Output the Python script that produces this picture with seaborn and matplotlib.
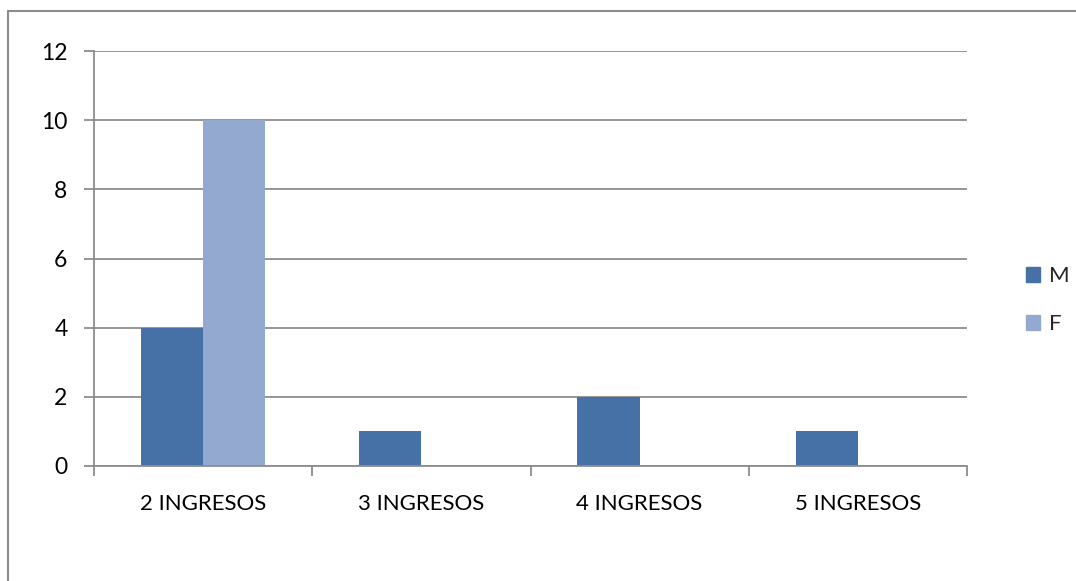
import pandas as pd
import numpy as np
import matplotlib.pyplot as plt
import seaborn as sns
from matplotlib.lines import Line2D

# datos
categorias = ['2 INGRESOS', '3 INGRESOS', '4 INGRESOS', '5 INGRESOS']
valores_m = [4, 1, 2, 1]
valores_f = [10, 0, 0, 0]
series = ['M', 'F']

df = pd.DataFrame({
    'categoria': categorias * 2,
    'serie': ['M'] * len(categorias) + ['F'] * len(categorias),
    'valor': valores_m + valores_f,
})

sns.set_style('white')
plt.rcParams['font.family'] = ['Lato', 'DejaVu Sans']

W, H = 1076, 581
fig = plt.figure(figsize=(W / 100, H / 100), dpi=100)
ax = fig.add_axes([94 / W, 1 - 466 / H, (967 - 94) / W, (466 - 51) / H])

colores = {'M': '#4571A6', 'F': '#94A9D0'}
sns.barplot(data=df, x='categoria', y='valor', hue='serie', hue_order=series,
            palette=colores, width=0.57, gap=0, saturation=1, ax=ax,
            legend=False, edgecolor='none')

ax.set_ylim(0, 12)
ax.set_yticks(range(0, 13, 2))
ax.set_xlim(-0.5, 3.5)
ax.grid(axis='y', color='#8c8c8c', linewidth=1.3)
ax.set_axisbelow(True)
ax.set_xlabel('')
ax.set_ylabel('')

for s in ['top', 'right']:
    ax.spines[s].set_visible(False)
for s in ['left', 'bottom']:
    ax.spines[s].set_color('#8c8c8c')
    ax.spines[s].set_linewidth(1.3)

# marcas del eje x en los limites de categoria
ax.set_xticks(np.arange(-0.5, 4.0, 1.0), minor=True)
ax.tick_params(axis='x', which='minor', bottom=True, length=7, color='#8c8c8c', width=1.3)
ax.tick_params(axis='x', which='major', bottom=True, length=0, labelsize=16, pad=20,
               labelcolor='black')
ax.tick_params(axis='y', which='major', left=True, length=7, color='#8c8c8c', width=1.3,
               labelsize=16.5, pad=12, labelcolor='black')

handles = [plt.Rectangle((0, 0), 1, 1, color=colores[s]) for s in series]
fig.legend(handles, series, loc='center left', bbox_to_anchor=(1006 / W, 1 - 300 / H),
           frameon=False, fontsize=16, handlelength=0.65, handleheight=0.65,
           handletextpad=0.4, labelspacing=1.25)

# borde exterior (solo arriba e izquierda visibles)
fig.add_artist(Line2D([8 / W, 1], [1 - 10.5 / H, 1 - 10.5 / H], color='#8c8c8c', linewidth=1.5))
fig.add_artist(Line2D([7.5 / W, 7.5 / W], [0, 1 - 10.5 / H], color='#8c8c8c', linewidth=1.5))

fig.savefig('out.png', dpi=100, facecolor='white')
